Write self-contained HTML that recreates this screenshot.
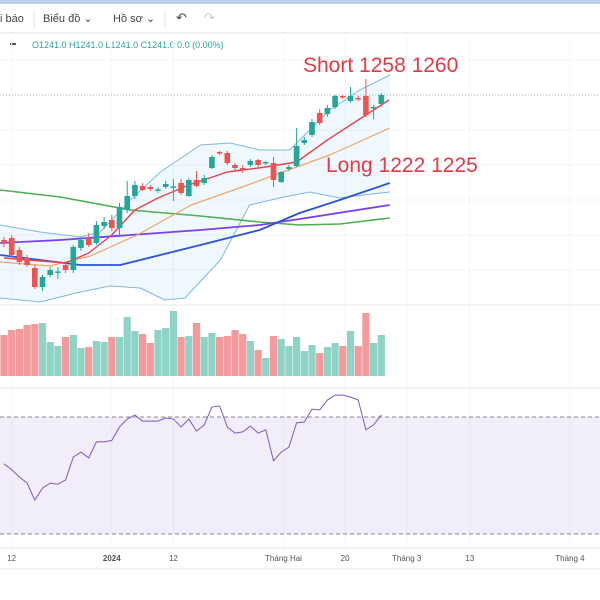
<!DOCTYPE html>
<html><head><meta charset="utf-8">
<style>
html,body{margin:0;padding:0;background:#fff;width:600px;height:600px;overflow:hidden;font-family:"Liberation Sans","DejaVu Sans",sans-serif;}
#wrap{position:relative;width:600px;height:600px;}
svg{position:absolute;left:0;top:0;}
</style></head>
<body>
<div id="wrap">
<svg id="chart" width="600" height="600" viewBox="0 0 600 600">
  <rect x="0" y="0" width="600" height="4" fill="#bcd0f0"/>
  <g font-size="11" fill="#444">
    <text x="0" y="22">i báo</text>
    <line x1="34" y1="10" x2="34" y2="28" stroke="#e0e3eb"/>
    <text x="43" y="22">Biểu đồ ⌄</text>
    <text x="113" y="22">Hồ sơ ⌄</text>
    <line x1="165" y1="10" x2="165" y2="28" stroke="#e0e3eb"/>
    <text x="176" y="22" font-size="13">↶</text>
    <text x="204" y="22" font-size="13" fill="#ccc">↷</text>
  </g>
  <line x1="0" y1="33" x2="600" y2="33" stroke="#e0e3eb"/>
  <g font-size="9" fill="#26a69a">
    <rect x="10" y="43" width="6" height="2" fill="#555"/>
    <text x="32" y="48">O1241.0  H1241.0  L1241.0  C1241.0  0.0 (0.00%)</text>
  </g>
  <g id="grid"></g>
  <g id="plot"></g>
  <text x="303" y="72" font-size="21" fill="#e23b45">Short 1258 1260</text>
  <text x="326" y="172" font-size="21" fill="#e23b45">Long 1222 1225</text>
  <g id="xaxis" font-size="8" fill="#555"></g>
</svg>
</div>
<script>
const opens  = [1168.5,1169.5,1163.5,1159.5,1154.5,1145,1151,1152.5,1156,1153.5,1164.5,1169.5,1167,1175.5,1178.5,1174.5,1183.5,1190.5,1195.5,1195,1193.5,1195,1195,1197,1190.5,1198.5,1197,1204.5,1212.5,1212,1206,1204.5,1206,1208.5,1207,1207,1197.5,1204,1205.5,1217,1221,1232,1231.5,1235,1240.5,1238,1239.5,1240.5,1234.5,1236.5];
const closes = [1167,1161,1157.5,1156,1145,1150,1153.5,1152.8,1153.5,1165,1168.5,1166,1176,1177.5,1174.5,1185,1190.5,1196,1193.5,1194,1193.8,1196.5,1195.3,1192,1198.5,1195.5,1199.5,1210,1212,1207,1204.5,1204.2,1208,1206,1207.5,1198.5,1202.5,1205,1215.5,1218.5,1227.5,1227,1234.5,1240.5,1240,1240.5,1239,1231,1235,1241];
const highs  = [1170,1171,1165,1161,1156,1151,1155,1155,1157,1166,1170,1172,1178,1180,1181,1187,1198,1198,1197,1196,1195,1198,1199,1199,1199.5,1203,1201,1211,1213,1213,1207,1206,1209,1209,1208,1210,1203,1206,1224.5,1220,1229,1234,1236,1241,1241,1245,1240.5,1249,1236,1242];
const lows   = [1165,1160,1156,1155,1144,1143,1150,1149,1152,1152,1163,1165,1166,1174,1173,1171,1182,1189,1193,1193,1192,1194,1188,1191,1190,1195,1196,1204,1211,1206,1203,1202,1205,1205,1206,1195,1197,1203,1205,1216,1220,1226,1230,1234,1239,1237,1238,1230,1229,1235];
const volumes = [41,46,47,51,52,53,34,30,39,41,28,29,35,34,39,39,59,45,42,33,46,48,65,39,40,53,39,43,39,40,46,42,35,26,18,40,37,30,39,25,31,23,29,33,30,45,30,63,33,41];
const rsi = [54,52,49.5,47.4,41.6,45.7,47.4,47,48.5,56.3,58,56,61.5,61.5,62,66.6,69.3,70.7,68.6,68.6,68.6,69.7,69.3,66.6,69.3,65.2,67.3,73.4,73.8,66.6,64.5,64.9,66.9,64.5,65.6,55,58,59.7,68,68.3,72.7,72.4,75.8,77.5,77.5,76.8,75.8,65.6,67.3,70.7];
const emaIdx = [0,8,11,14,17,20,24,29,34,38,42,47,50];
const emaVal = [1159.5,1157,1162,1171,1183.5,1189.5,1196,1202.5,1205,1207.5,1218.5,1231,1238.5];
const ma20Idx = [-0.5,6,11.2,17.3,24.3,31.3,36.2,42.3,50.1];
const ma20Val = [1157.5,1155.5,1160.5,1171,1186,1195.5,1202.5,1211,1224.5];
const ma200Idx = [-0.5,7.3,16.4,25.5,33.2,38.4,43.6,50.1];
const ma200Val = [1193.5,1190,1183.5,1180.5,1177.5,1176,1176.5,1179.5];
const ma100Idx = [-0.5,7.3,16.4,25.5,33.2,38.4,50.1];
const ma100Val = [1167,1168.5,1171,1173.5,1176,1179,1186];
const ma50Idx = [-0.5,4.7,9.9,15.1,20.3,25.5,33.2,38.4,43.6,50.1];
const ma50Val = [1161,1158.5,1156,1156,1161,1166,1173.5,1182,1188.5,1197];
const bbUpIdx = [-0.5,4.7,9.9,12.5,16.4,20.3,25.5,29.4,33.2,37.1,38.4,42.3,46.2,50.1];
const bbUpVal = [1176,1172.5,1170,1172.5,1188.5,1202.5,1216,1217,1213.5,1213.5,1218.5,1233.5,1243.5,1251];
const bbLoIdx = [-0.5,4.7,9.9,13.8,17.7,20.9,23.5,28.1,31.9,35.8,39.7,43.6,50.1];
const bbLoVal = [1139.5,1137.5,1142.5,1145.5,1144.5,1138.5,1139.5,1158.5,1186,1189.5,1192.5,1189.5,1192.5];
const tickLabels = ["12","2024","12","Tháng Hai","20","Tháng 3","13","Tháng 4"];
const tickIdx = [1,14,22,36.3,44.3,52.3,60.5,73.5];
const lastPrice = 1241;

const NS="http://www.w3.org/2000/svg";
const X0=4, STEP=7.7;
const xS=i=>X0+STEP*i;
const yP=p=>95+(lastPrice-p)*2;
const VBASE=376, yV=v=>VBASE-v;
const yR=r=>417+(70-r)*2.925;
const UP="#26a69a", DN="#ef5350";
function mk(tag,attrs,parent){const e=document.createElementNS(NS,tag);for(const k in attrs)e.setAttribute(k,attrs[k]);parent.appendChild(e);return e;}
const plot=document.getElementById('plot'), grid=document.getElementById('grid'), xaxis=document.getElementById('xaxis');

[60,95,130,165,200,235,270].forEach(y=>{const l=mk('line',{x1:0,x2:600,y1:y,y2:y,stroke:'#f4f5f8'},grid);

});
tickIdx.forEach(t=>{const x=xS(t);const l=mk('line',{x1:x,x2:x,y1:36,y2:548,stroke:'#f4f5f8'},grid);

});
[305,388,548].forEach(y=>{const l=mk('line',{x1:0,x2:600,y1:y,y2:y,stroke:'#e6e8ee'},grid);

});

let d='';
bbUpIdx.forEach((t,k)=>{d+=(k?'L':'M')+xS(t)+','+yP(bbUpVal[k]);});
for(let k=bbLoIdx.length-1;k>=0;k--)d+='L'+xS(bbLoIdx[k])+','+yP(bbLoVal[k]);
const bbf=mk('path',{d:d+'Z',fill:'rgba(33,150,243,0.07)'},plot);



function line(idx,val,color,w,name){
  const pts=idx.map((t,k)=>xS(t)+','+yP(val[k])).join(' ');
  const p=mk('polyline',{points:pts,fill:'none',stroke:color,'stroke-width':w,'stroke-linejoin':'round'},plot);
  
  
}
line(bbUpIdx,bbUpVal,'#7fb7e6',1,'bollinger-upper');
line(bbLoIdx,bbLoVal,'#7fb7e6',1,'bollinger-lower');
line(ma200Idx,ma200Val,'#4caf50',1.6,'ma-green');
line(ma100Idx,ma100Val,'#7b3ff2',1.8,'ma-purple');
line(ma50Idx,ma50Val,'#2d52d8',1.8,'ma-blue');
line(ma20Idx,ma20Val,'#f4a460',1.2,'ma-orange');
line(emaIdx,emaVal,'#e8424a',1.4,'ema-red');

const pl=mk('line',{x1:0,x2:600,y1:yP(lastPrice),y2:yP(lastPrice),stroke:'#9fb3c8','stroke-dasharray':'1,2'},plot);



opens.forEach((o,i)=>{
  const c=closes[i],x=xS(i),col=c>=o?UP:DN;
  const w=mk('line',{x1:x,x2:x,y1:yP(highs[i]),y2:yP(lows[i]),stroke:col,'stroke-width':1},plot);
  
  
  const top=Math.min(yP(o),yP(c)),h=Math.max(1.5,Math.abs(yP(o)-yP(c)));
  const b=mk('rect',{x:x-2.8,y:top,width:5.6,height:h,fill:col},plot);
  
  
});

volumes.forEach((v,i)=>{
  const col=closes[i]>=opens[i]?'#8ed3c6':'#f59a9c';
  const r=mk('rect',{x:xS(i)-3.6,y:yV(v),width:7.2,height:v,fill:col},plot);
  
  
});

const rb=mk('rect',{x:0,y:yR(70),width:600,height:yR(30)-yR(70),fill:'rgba(126,87,194,0.1)'},plot);


[70,30].forEach(l=>{const e=mk('line',{x1:0,x2:600,y1:yR(l),y2:yR(l),stroke:'#888','stroke-dasharray':'4,3'},plot);

});
const rl=mk('polyline',{points:rsi.map((r,i)=>xS(i)+','+yR(r)).join(' '),fill:'none',stroke:'#7e57c2','stroke-width':1},plot);



tickLabels.forEach((t,k)=>{
  const e=mk('text',{x:xS(tickIdx[k]),y:561,'text-anchor':'middle'},xaxis);
  if(t==='2024')e.setAttribute('font-weight','bold');
  e.textContent=t;
  
  
});
const ab=mk('line',{x1:0,x2:600,y1:569,y2:569,stroke:'#e6e8ee'},xaxis);


</script>
</body></html>
